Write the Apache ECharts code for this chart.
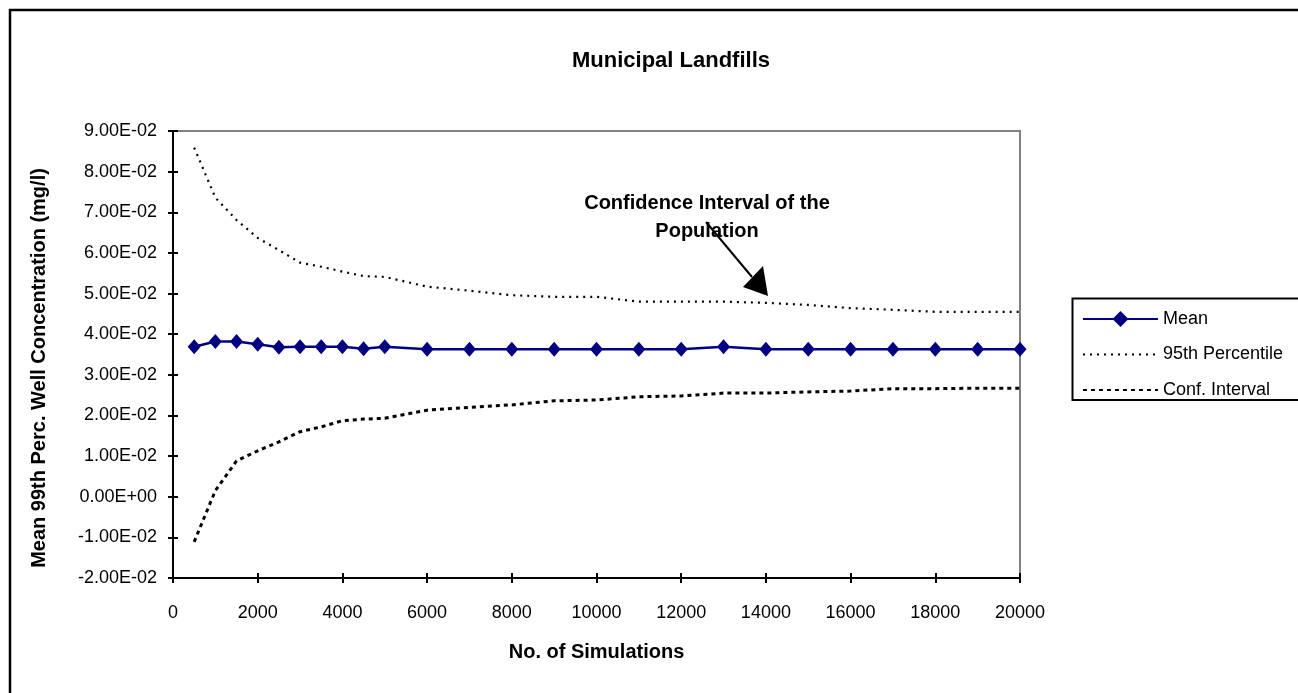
<!DOCTYPE html>
<html>
<head>
<meta charset="utf-8">
<script src="https://cdn.jsdelivr.net/npm/echarts@6/dist/echarts.min.js"></script>
<style>
html,body{margin:0;padding:0;background:#fff;}
#chart{width:1298px;height:693px;}
</style>
</head>
<body>
<div id="chart"></div>
<script>
const simulations = [500,1000,1500,2000,2500,3000,3500,4000,4500,5000,6000,7000,8000,9000,10000,11000,12000,13000,14000,15000,16000,17000,18000,19000,20000];
const meanValues = [0.0369,0.0382,0.0382,0.0375,0.0368,0.0369,0.0369,0.0369,0.0364,0.0369,0.0363,0.0363,0.0363,0.0363,0.0363,0.0363,0.0363,0.0369,0.0363,0.0363,0.0363,0.0363,0.0363,0.0363,0.0363];
const percentile95 = [0.0859,0.0736,0.0681,0.0637,0.0607,0.0576,0.0566,0.0554,0.0543,0.0541,0.0517,0.0507,0.0496,0.0492,0.0492,0.0480,0.0480,0.0480,0.0477,0.0472,0.0464,0.0460,0.0455,0.0455,0.0455];
const confInterval = [-0.0111,0.0015,0.0088,0.0113,0.0135,0.0160,0.0172,0.0187,0.0191,0.0193,0.0213,0.0220,0.0226,0.0236,0.0238,0.0246,0.0248,0.0255,0.0255,0.0258,0.0260,0.0266,0.0266,0.0267,0.0267];
const seriesNames = ['Mean','95th Percentile','Conf. Interval'];
const titleText = 'Municipal Landfills';
const xTitle = 'No. of Simulations';
const yTitle = 'Mean 99th Perc. Well Concentration (mg/l)';
const noteText = 'Confidence Interval of the\nPopulation';

function sci(v){
  let s = Number(v).toExponential(2);
  let parts = s.split('e');
  let exp = parseInt(parts[1],10);
  let sign = exp < 0 ? '-' : '+';
  let e = String(Math.abs(exp)).padStart(2,'0');
  return parts[0] + 'E' + sign + e;
}
function plain(v){ return String(Math.round(v)); }
function pairs(ys){ return simulations.map((x,i)=>[x, ys[i]]); }

const FONT = '"Liberation Sans", Arial, sans-serif';
const chart = echarts.init(document.getElementById('chart'), null, {renderer:'canvas'});
const axisCommon = {
  axisLine:{show:true, onZero:false, lineStyle:{color:'#000', width:2}},
  splitLine:{show:false}
};
chart.setOption({
  animation:false,
  backgroundColor:'#fff',
  title:{
    text:titleText, left:666, top:45, textAlign:'center',
    textStyle:{fontFamily:FONT, fontWeight:'bold', fontSize:22, color:'#000'}
  },
  grid:{left:173, top:131, width:847, height:447, show:true, borderColor:'#808080', borderWidth:2, containLabel:false},
  legend:{
    orient:'vertical', left:1082, top:309, padding:0,
    itemWidth:75, itemHeight:20, itemGap:15.5,
    textStyle:{fontFamily:FONT, fontSize:18, color:'#000', lineHeight:20},
    data:[
      {name:seriesNames[0]},
      {name:seriesNames[1], itemStyle:{opacity:0}},
      {name:seriesNames[2], itemStyle:{opacity:0}}
    ]
  },
  xAxis:[
    Object.assign({}, axisCommon, {
      type:'value', min:0, max:20000, interval:2000, position:'bottom',
      name:xTitle, nameLocation:'middle', nameGap:64,
      nameTextStyle:{fontFamily:FONT, fontWeight:'bold', fontSize:20, color:'#000'},
      axisTick:{show:true, inside:false, length:5, lineStyle:{color:'#000', width:2}},
      axisLabel:{fontFamily:FONT, fontSize:18, color:'#000', margin:26, formatter:plain}
    }),
    {
      type:'value', min:0, max:20000, interval:2000, position:'bottom',
      axisLine:{show:false, onZero:false}, splitLine:{show:false}, axisLabel:{show:false},
      axisTick:{show:true, inside:true, length:5, lineStyle:{color:'#000', width:2}}
    }
  ],
  yAxis:[
    Object.assign({}, axisCommon, {
      type:'value', min:-0.02, max:0.09, interval:0.01, position:'left',
      axisTick:{show:true, inside:false, length:5, lineStyle:{color:'#000', width:2}},
      axisLabel:{fontFamily:FONT, fontSize:18, color:'#000', margin:16, formatter:sci}
    }),
    {
      type:'value', min:-0.02, max:0.09, interval:0.01, position:'left',
      axisLine:{show:false, onZero:false}, splitLine:{show:false}, axisLabel:{show:false},
      axisTick:{show:true, inside:true, length:5, lineStyle:{color:'#000', width:2}}
    }
  ],
  series:[
    {
      name:seriesNames[0], type:'line', data:pairs(meanValues),
      symbol:'diamond', symbolSize:[13,15],
      lineStyle:{color:'#000080', width:2.5},
      itemStyle:{color:'#000080'}
    },
    {
      name:seriesNames[1], type:'line', data:pairs(percentile95),
      symbol:'none', showSymbol:false,
      lineStyle:{color:'#000', width:2.2, type:[2,5]},
      itemStyle:{color:'#000'}
    },
    {
      name:seriesNames[2], type:'line', data:pairs(confInterval),
      symbol:'none', showSymbol:false,
      lineStyle:{color:'#000', width:3, type:[4,4]},
      itemStyle:{color:'#000'}
    }
  ],
  graphic:[
    {type:'rect', shape:{x:10, y:10, width:1400, height:800}, style:{fill:'none', stroke:'#000', lineWidth:2.5}, z:-1},
    {type:'rect', shape:{x:1072.5, y:298.5, width:260, height:101.5}, style:{fill:'#fff', stroke:'#000', lineWidth:2}, z:-1},
    {type:'text', x:39, y:368, rotation:Math.PI/2, style:{text:yTitle, font:'bold 20px "Liberation Sans", Arial, sans-serif', fill:'#000', align:'center', verticalAlign:'middle'}, z:10},
    {type:'text', x:707, y:217, style:{text:noteText, font:'bold 20px "Liberation Sans", Arial, sans-serif', fill:'#000', align:'center', verticalAlign:'middle', lineHeight:28}, z:10},
    {type:'line', shape:{x1:706, y1:222, x2:752, y2:277}, style:{stroke:'#000', lineWidth:2}, z:10},
    {type:'polygon', shape:{points:[[768,296],[743,287],[763,266]]}, style:{fill:'#000'}, z:10}
  ]
});
</script>
</body>
</html>
